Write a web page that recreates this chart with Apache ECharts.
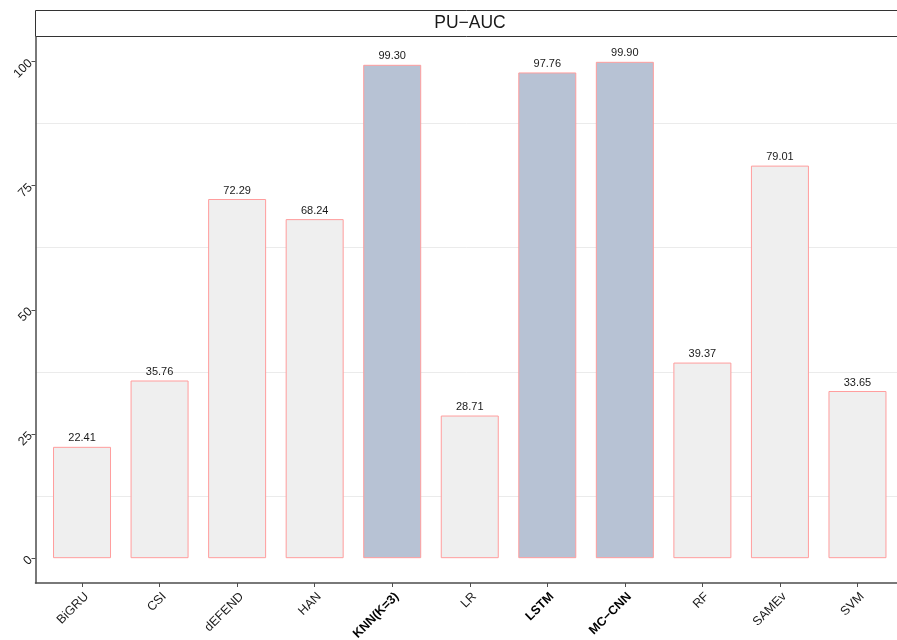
<!DOCTYPE html>
<html>
<head>
<meta charset="utf-8">
<script src="https://cdn.jsdelivr.net/npm/echarts@6/dist/echarts.min.js"></script>
<style>
  html, body { margin: 0; padding: 0; background: #fff; }
  #chart { width: 897px; height: 640px; }
</style>
</head>
<body>
<div id="chart"></div>
<script>
// Models and their PU-AUC scores
const models = ['BiGRU', 'CSI', 'dEFEND', 'HAN', 'KNN(K=3)', 'LR', 'LSTM', 'MC\u2212CNN', 'RF', 'SAMEv', 'SVM'];
const aucValues = [22.41, 35.76, 72.29, 68.24, 99.30, 28.71, 97.76, 99.90, 39.37, 79.01, 33.65];
// Models drawn with the highlighted fill and bold axis label
const highlighted = ['KNN(K=3)', 'LSTM', 'MC\u2212CNN'];
const yTicks = [0, 25, 50, 75, 100];
const minorGrid = [12.5, 37.5, 62.5, 87.5];
const panelTitle = 'PU\u2212AUC';

const FONT = 'Liberation Sans, Arial, Helvetica, sans-serif';
const positions = models.map((_, i) => i + 1);
const maxVal = Math.max(...aucValues);
const pad = maxVal * 0.05;

const chart = echarts.init(document.getElementById('chart'), null, { renderer: 'canvas' });

const barData = models.map((m, i) => ({
  value: [positions[i], aucValues[i]],
  itemStyle: { color: highlighted.includes(m) ? '#b7c2d4' : '#efefef' }
}));

chart.setOption({
  animation: false,
  backgroundColor: '#ffffff',
  graphic: [
    {
      // facet strip box above the panel
      type: 'rect', z: -1,
      shape: { x: 35.5, y: 10.5, width: 880, height: 26 },
      style: { fill: '#ffffff', stroke: '#333333', lineWidth: 1 }
    },
    {
      type: 'text', z: 5,
      x: 470, y: 23.5,
      style: {
        text: panelTitle, align: 'center', verticalAlign: 'middle',
        font: '17.5px ' + FONT, fill: '#1a1a1a'
      }
    }
  ],
  grid: {
    left: 35.5, right: -7, top: 37, bottom: 57,
    containLabel: false, outerBoundsMode: 'none'
  },
  xAxis: {
    type: 'value', min: 0.4, max: models.length + 0.6,
    axisLine: { show: true, onZero: false, lineStyle: { color: '#4d4d4d', width: 1.5 } },
    splitLine: { show: false },
    axisTick: { show: true, customValues: positions, length: 4, lineStyle: { color: '#4d4d4d', width: 1 } },
    axisLabel: {
      show: true, customValues: positions, rotate: 45, margin: 7,
      verticalAlign: 'top',
      fontFamily: FONT, fontSize: 12.5, color: '#1a1a1a',
      formatter: v => {
        const m = models[Math.round(v) - 1];
        return highlighted.includes(m) ? '{b|' + m + '}' : m;
      },
      rich: { b: { fontWeight: 'bold', fontFamily: FONT, fontSize: 12.5, color: '#000' } }
    }
  },
  yAxis: {
    type: 'value', min: -pad, max: maxVal + pad,
    axisLine: { show: true, lineStyle: { color: '#4d4d4d', width: 1.5 } },
    splitLine: { show: false },
    axisTick: { show: true, customValues: yTicks, length: 4, lineStyle: { color: '#4d4d4d', width: 1 } },
    axisLabel: {
      show: true, customValues: yTicks, rotate: 45, margin: 5,
      fontFamily: FONT, fontSize: 12.5, color: '#1a1a1a'
    }
  },
  series: [{
    type: 'bar',
    data: barData,
    barWidth: 58,
    itemStyle: { borderColor: '#ff9d9d', borderWidth: 1 },
    label: {
      show: true, position: 'top', distance: 3,
      fontFamily: FONT, fontSize: 11, color: '#1a1a1a',
      formatter: p => p.value[1].toFixed(2)
    },
    markLine: {
      silent: true, symbol: 'none', z: 0,
      label: { show: false },
      lineStyle: { color: '#ebebeb', width: 1, type: 'solid' },
      data: minorGrid.map(v => ({ yAxis: v }))
    },
    z: 2
  }]
});
</script>
</body>
</html>
